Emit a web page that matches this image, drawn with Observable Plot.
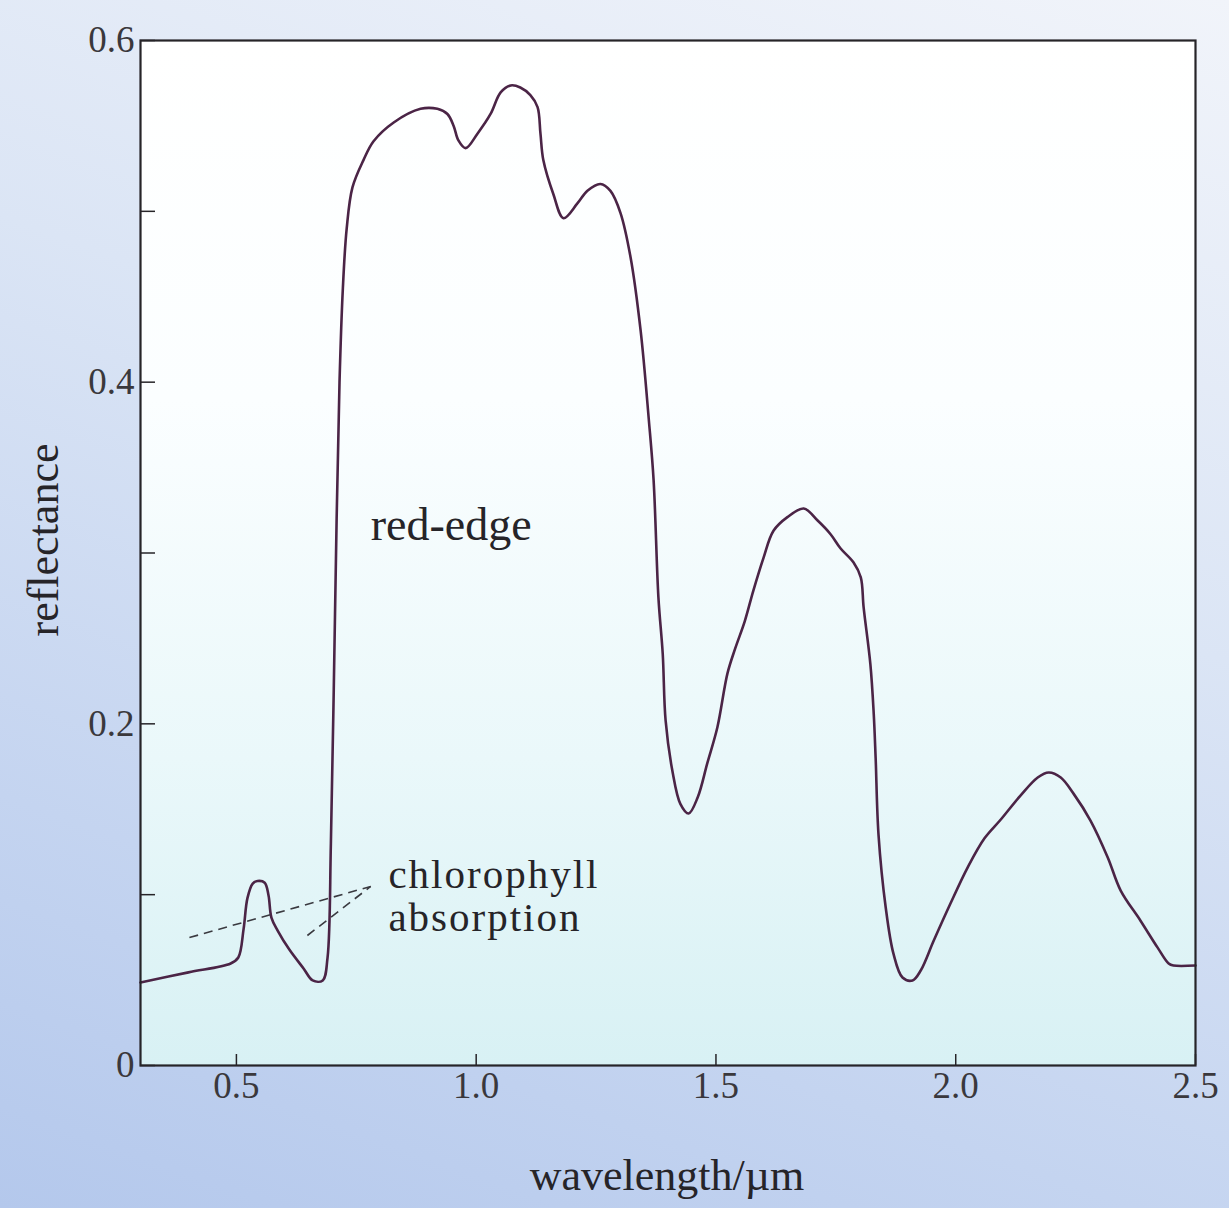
<!DOCTYPE html>
<html>
<head>
<meta charset="utf-8">
<script src="https://cdn.jsdelivr.net/npm/d3@7"></script>
<script src="https://cdn.jsdelivr.net/npm/@observablehq/plot@0.6"></script>
<style>
  html, body { margin: 0; padding: 0; }
  body { width: 1229px; height: 1208px; overflow: hidden;
    background: linear-gradient(200deg, #f1f4fa 0%, #dbe5f5 40%, #c4d4f0 75%, #b4c8ec 100%); }
  #chart svg { display: block; }
</style>
</head>
<body>
<div id="chart"></div>
<script>
// ---- data (wavelength in µm, reflectance) ----
const wavelength = [0.300,0.400,0.488,0.504,0.515,0.523,0.534,0.544,0.559,0.567,0.573,0.586,0.610,0.640,0.659,0.680,0.690,0.697,0.703,0.709,0.715,0.722,0.730,0.742,0.765,0.786,0.828,0.884,0.919,0.940,0.953,0.963,0.978,1.003,1.030,1.051,1.072,1.092,1.113,1.128,1.134,1.140,1.161,1.182,1.211,1.232,1.259,1.280,1.301,1.322,1.343,1.360,1.370,1.380,1.389,1.395,1.409,1.426,1.443,1.462,1.482,1.503,1.524,1.540,1.560,1.578,1.599,1.620,1.649,1.683,1.712,1.739,1.760,1.787,1.802,1.808,1.822,1.829,1.833,1.839,1.854,1.870,1.889,1.910,1.927,1.954,1.989,2.025,2.060,2.094,2.135,2.171,2.194,2.219,2.246,2.281,2.317,2.344,2.385,2.421,2.444,2.454,2.500];
const reflectance = [0.0486,0.0545,0.0597,0.0632,0.080,0.098,0.1065,0.108,0.107,0.0995,0.0866,0.079,0.068,0.0568,0.0498,0.0498,0.063,0.13,0.22,0.32,0.40,0.455,0.490,0.514,0.530,0.541,0.552,0.560,0.560,0.557,0.550,0.5415,0.537,0.5456,0.557,0.5696,0.5737,0.5725,0.568,0.561,0.5456,0.530,0.510,0.496,0.5046,0.512,0.516,0.512,0.499,0.473,0.430,0.378,0.3425,0.274,0.241,0.202,0.1727,0.153,0.1475,0.157,0.177,0.198,0.2295,0.244,0.260,0.278,0.297,0.313,0.321,0.326,0.319,0.311,0.3026,0.2944,0.2857,0.268,0.235,0.206,0.180,0.135,0.0925,0.0656,0.0515,0.0498,0.0556,0.073,0.0948,0.116,0.133,0.1440,0.158,0.1686,0.1715,0.1686,0.159,0.1434,0.1218,0.1024,0.0849,0.069,0.0597,0.0585,0.0585];

const xTicks = [0.5, 1.0, 1.5, 2.0, 2.5];
const xTickLabels = ["0.5", "1.0", "1.5", "2.0", "2.5"];
const yTicks = [0, 0.1, 0.2, 0.3, 0.4, 0.5, 0.6];
const yLabelTicks = [0, 0.2, 0.4, 0.6];
const yTickLabels = ["0", "0.2", "0.4", "0.6"];

// annotations (data space)
const annotationText = ["red-edge", "chlorophyll", "absorption"];
const annotationX = [0.780, 0.817, 0.817];
const annotationY = [0.316, 0.1115, 0.0865];
// dashed pointer lines: from absorption dips to the label
const pointerX1 = [0.402, 0.648];
const pointerY1 = [0.0749, 0.0761];
const pointerX2 = [0.780, 0.780];
const pointerY2 = [0.1048, 0.1048];

const spectrum = wavelength.map((w, i) => ({w, r: reflectance[i]}));
const pointers = pointerX1.map((x, i) => ({x1: x, y1: pointerY1[i], x2: pointerX2[i], y2: pointerY2[i]}));
const notes = annotationText.map((t, i) => ({t, x: annotationX[i], y: annotationY[i]}));

const serif = "'Liberation Serif', 'DejaVu Serif', serif";
const ink = "#262428";

const chart = Plot.plot({
  width: 1229,
  height: 1208,
  marginLeft: 140,
  marginRight: 34,
  marginTop: 40,
  marginBottom: 143,
  style: {background: "transparent", fontFamily: serif, color: ink},
  x: {domain: [0.3, 2.5]},
  y: {domain: [0, 0.6]},
  marks: [
    Plot.frame({fill: "url(#plotbg)"}),
    // inward tick marks
    Plot.axisX(xTicks, {tickSize: -11, tickFormat: null, label: null, stroke: ink, strokeWidth: 1.5, text: null}),
    Plot.axisY(yTicks, {tickSize: -15, tickFormat: null, label: null, stroke: ink, strokeWidth: 1.5, text: null}),
    // tick labels
    Plot.axisX(xTicks, {tickSize: 0, tickPadding: 6, tickFormat: (d) => xTickLabels[xTicks.indexOf(d)], label: null, fontSize: 37, fill: "#3a383c", fontFamily: serif}),
    Plot.axisY(yLabelTicks, {tickSize: 0, tickPadding: 6, tickFormat: (d) => yTickLabels[yLabelTicks.indexOf(d)], label: null, fontSize: 37, fill: "#3a383c", fontFamily: serif}),
    Plot.line(spectrum, {x: "w", y: "r", stroke: "#4b2446", strokeWidth: 2.6, curve: "catmull-rom"}),
    Plot.link(pointers, {x1: "x1", y1: "y1", x2: "x2", y2: "y2", stroke: "#3a3a40", strokeWidth: 1.6, strokeDasharray: "9,6"}),
    Plot.text(notes, {x: "x", y: "y", text: "t", textAnchor: "start", lineAnchor: "middle", fontSize: (d) => d.t === "red-edge" ? 46 : 41, fill: ink, fontFamily: serif}),
    Plot.frame({stroke: ink, strokeWidth: 2.2})
  ]
});

// gradient for plot area
const svg = d3.select(chart);
const defs = svg.insert("defs", ":first-child");
const g = defs.append("linearGradient").attr("id", "plotbg").attr("x1", 0).attr("y1", 0).attr("x2", 0).attr("y2", 1);
g.append("stop").attr("offset", "0%").attr("stop-color", "#ffffff");
g.append("stop").attr("offset", "35%").attr("stop-color", "#fbfeff");
g.append("stop").attr("offset", "70%").attr("stop-color", "#eaf8fa");
g.append("stop").attr("offset", "100%").attr("stop-color", "#d8f1f4");

// widen the chlorophyll label a little like the reference lettering
svg.selectAll("text").filter(function() { const t = this.textContent; return t === "chlorophyll" || t === "absorption"; })
  .style("letter-spacing", "2px");

// axis titles
svg.append("text").attr("x", 667).attr("y", 1190).attr("text-anchor", "middle")
  .attr("font-family", serif).attr("font-size", 44).attr("fill", ink).text("wavelength/µm");
svg.append("text").attr("transform", "translate(58,540) rotate(-90)").attr("text-anchor", "middle")
  .attr("font-family", serif).attr("font-size", 44).attr("fill", ink).text("reflectance");

document.getElementById("chart").appendChild(chart);
</script>
</body>
</html>
